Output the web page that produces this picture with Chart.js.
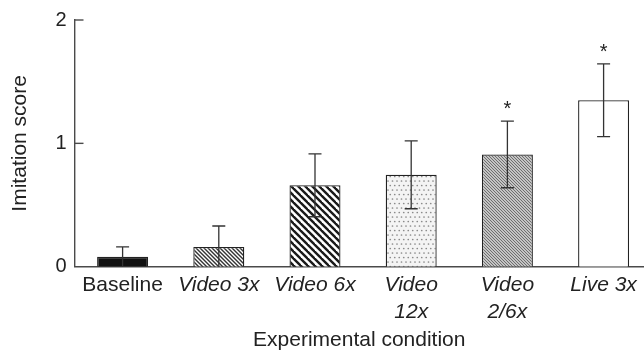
<!DOCTYPE html>
<html>
<head>
<meta charset="utf-8">
<script src="https://cdn.jsdelivr.net/npm/chart.js@4/dist/chart.umd.min.js"></script>
<style>
  html, body { margin: 0; padding: 0; background: #fff; }
  #wrap { width: 644px; height: 351px; }
</style>
</head>
<body>
<div id="wrap"><canvas id="c" width="644" height="351"></canvas></div>
<script>
// ---- data ----
const categories = ['Baseline', 'Video 3x', 'Video 6x', 'Video 12x', 'Video 2/6x', 'Live 3x'];
const tickLabels = [['Baseline'], ['Video 3x'], ['Video 6x'], ['Video', '12x'], ['Video', '2/6x'], ['Live 3x']];
const means = [0.08, 0.16, 0.66, 0.745, 0.91, 1.35];
const errors = [0.08, 0.17, 0.255, 0.275, 0.27, 0.295];
const significant = [false, false, false, false, true, true];
const yTicks = [0, 1, 2];

// ---- patterns ----
function diagPattern(s, lw, fg, bg) {
  const c = document.createElement('canvas');
  c.width = s; c.height = s;
  const g = c.getContext('2d');
  g.fillStyle = bg; g.fillRect(0, 0, s, s);
  g.strokeStyle = fg; g.lineWidth = lw;
  for (let k = -1; k <= 1; k++) {
    g.beginPath();
    g.moveTo(k * s - s, -s);
    g.lineTo(k * s + 2 * s, 2 * s);
    g.stroke();
  }
  return g.createPattern(c, 'repeat');
}
function dotPattern() {
  const c = document.createElement('canvas');
  c.width = 9; c.height = 9;
  const g = c.getContext('2d');
  g.fillStyle = '#f4f4f4'; g.fillRect(0, 0, 9, 9);
  g.fillStyle = '#8a8a8a';
  [[1, 1], [5.5, 1], [3.25, 5.5], [7.75, 5.5]].forEach(p => {
    g.beginPath(); g.arc(p[0], p[1], 0.85, 0, Math.PI * 2); g.fill();
  });
  return g.createPattern(c, 'repeat');
}
const fills = [
  '#111111',
  diagPattern(4, 1.4, '#333', '#fff'),
  diagPattern(7, 2.4, '#1a1a1a', '#fff'),
  dotPattern(),
  diagPattern(3, 1.0, '#6e6e6e', '#c4c4c4'),
  '#ffffff'
];

const FONT = '"Liberation Sans", Arial, Helvetica, sans-serif';
const INK = '#222';
const AXIS = '#4a4a4a';

const extras = {
  id: 'extras',
  afterDatasetsDraw(chart) {
    const ctx = chart.ctx;
    const xs = chart.scales.x, ys = chart.scales.y;
    ctx.save();
    ctx.strokeStyle = '#333';
    ctx.lineWidth = 1.3;
    means.forEach((m, i) => {
      const x = xs.getPixelForValue(i);
      const lo = Math.max(0, m - errors[i]);
      const yt = ys.getPixelForValue(m + errors[i]);
      const yb = ys.getPixelForValue(lo);
      ctx.beginPath();
      ctx.moveTo(x, yt); ctx.lineTo(x, yb);
      ctx.moveTo(x - 6.5, yt); ctx.lineTo(x + 6.5, yt);
      if (lo > 0) { ctx.moveTo(x - 6.5, yb); ctx.lineTo(x + 6.5, yb); }
      ctx.stroke();
      if (significant[i]) {
        ctx.fillStyle = INK;
        ctx.font = '20px ' + FONT;
        ctx.textAlign = 'center';
        ctx.textBaseline = 'alphabetic';
        ctx.fillText('*', x, yt - 6);
      }
    });
    // inward y ticks
    ctx.strokeStyle = AXIS;
    ctx.lineWidth = 1.4;
    const left = chart.chartArea.left;
    yTicks.forEach(v => {
      if (v === 0) return;
      const y = ys.getPixelForValue(v);
      ctx.beginPath(); ctx.moveTo(left, y); ctx.lineTo(left + 9, y); ctx.stroke();
    });
    ctx.restore();
  }
};

new Chart(document.getElementById('c'), {
  type: 'bar',
  data: {
    datasets: [{
      data: means.map((v, i) => ({ x: i, y: v })),
      backgroundColor: fills,
      borderColor: '#222',
      borderWidth: 1.3,
      barPercentage: 0.53,
      categoryPercentage: 1.0
    }]
  },
  options: {
    responsive: false,
    animation: false,
    devicePixelRatio: 1,
    layout: { padding: { top: 20, right: 0, bottom: 0, left: 0 } },
    plugins: { legend: { display: false }, tooltip: { enabled: false } },
    scales: {
      x: {
        type: 'linear',
        offset: false,
        min: -0.5,
        max: 5.42,
        afterBuildTicks: axis => { axis.ticks = categories.map((_, i) => ({ value: i })); },
        afterFit: scale => { scale.height = 84.3; },
        grid: { display: false, drawTicks: false },
        border: { display: true, color: AXIS, width: 1.6 },
        ticks: {
          autoSkip: false,
          maxRotation: 0,
          minRotation: 0,
          padding: 5,
          color: INK,
          font: ctx => ({ family: FONT, size: 21, lineHeight: 1.27, style: ctx.index === 0 ? 'normal' : 'italic' }),
          callback: v => tickLabels[v]
        },
        title: {
          display: true,
          text: 'Experimental condition',
          color: INK,
          font: { family: FONT, size: 21, lineHeight: 1 },
          padding: { top: 0, bottom: 0 }
        }
      },
      y: {
        min: 0,
        max: 2,
        afterBuildTicks: axis => { axis.ticks = yTicks.map(v => ({ value: v })); },
        afterFit: scale => { scale.width = 74.5; },
        grid: { display: false, drawTicks: false },
        border: { display: true, color: AXIS, width: 1.4 },
        ticks: {
          padding: 8,
          color: INK,
          font: { family: FONT, size: 20 }
        },
        title: {
          display: true,
          text: 'Imitation score',
          color: INK,
          font: { family: FONT, size: 21, lineHeight: 1.2 },
          padding: { top: 8, bottom: 0 }
        }
      }
    }
  },
  plugins: [extras]
});
</script>
</body>
</html>
